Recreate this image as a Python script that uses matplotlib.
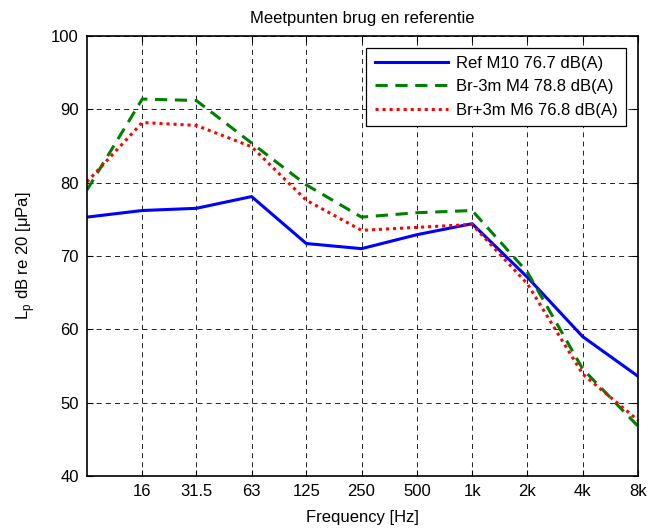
import matplotlib
matplotlib.use("Agg")
import matplotlib.pyplot as plt

plt.rcParams['font.family'] = ['Liberation Sans', 'DejaVu Sans']

# octave band centre frequencies [Hz]
freq = [8, 16, 31.5, 63, 125, 250, 500, 1000, 2000, 4000, 8000]
tick_freq = [16, 31.5, 63, 125, 250, 500, 1000, 2000, 4000, 8000]
tick_labels = ['16', '31.5', '63', '125', '250', '500', '1k', '2k', '4k', '8k']

# sound pressure levels per band [dB]
ref_m10 = [75.3, 76.2, 76.5, 78.1, 71.7, 71.0, 72.9, 74.4, 67.1, 59.0, 53.6]
br_min3_m4 = [79.0, 91.4, 91.2, 85.4, 79.7, 75.3, 75.9, 76.2, 67.8, 54.6, 46.8]
br_plus3_m6 = [80.1, 88.2, 87.8, 84.9, 77.6, 73.5, 73.9, 74.3, 66.2, 53.9, 47.6]

fs = 12

fig = plt.figure(figsize=(6.5, 5.29), dpi=100)
ax = fig.add_axes([0.1338, 0.1002, 0.8477, 0.8318])

ax.plot(freq, ref_m10, color='#0000ff', lw=2.2, label='Ref M10 76.7 dB(A)')
ax.plot(freq, br_min3_m4, color='#008000', lw=2.2, ls=(0, (4, 2.5)),
        label='Br-3m M4 78.8 dB(A)')
ax.plot(freq, br_plus3_m6, color='#ff0000', lw=2.2, ls=(0, (1, 1.3)),
        label='Br+3m M6 76.8 dB(A)')

ax.set_xscale('log')
ax.set_xlim(8, 8000)
ax.set_ylim(40, 100)
ax.set_xticks(tick_freq)
ax.set_xticklabels(tick_labels)
ax.minorticks_off()
ax.set_yticks(range(40, 101, 10))

ax.grid(True, color='black', ls=(0, (6, 5)), lw=0.6)
ax.tick_params(direction='in', top=True, right=True, length=4, pad=6,
               labelsize=fs, colors='black')
for s in ax.spines.values():
    s.set_linewidth(1.2)

ax.set_title('Meetpunten brug en referentie', fontsize=fs, pad=9)
ax.set_xlabel('Frequency [Hz]', fontsize=fs, labelpad=8)
ax.set_ylabel(r'L$_\mathregular{p}$ dB re 20 [$\mathregular{\mu}$Pa]',
              fontsize=fs, labelpad=10)

leg = ax.legend(loc='upper right', fontsize=fs, fancybox=False,
                framealpha=1, edgecolor='black', handlelength=4.4,
                handletextpad=0.5, borderaxespad=0.7, labelspacing=0.5,
                borderpad=0.5)
leg.get_frame().set_linewidth(0.9)

fig.savefig('out.png', dpi=100)
